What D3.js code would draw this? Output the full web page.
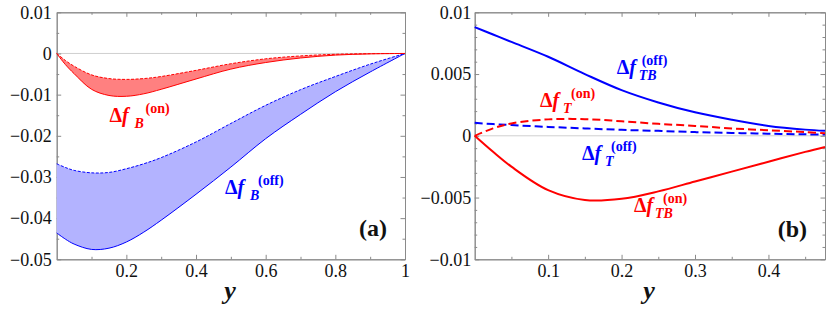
<!DOCTYPE html>
<html><head><meta charset="utf-8">
<script src="https://cdn.jsdelivr.net/npm/d3@7"></script>
<style>body{margin:0;background:#fff} svg{display:block}</style>
</head><body><svg id="c" width="830" height="312"></svg>
<script>
// ---------- data: panel (a) ----------
const yA = [0, 0.025, 0.05, 0.1, 0.15, 0.2, 0.25, 0.3, 0.4, 0.5, 0.6, 0.7, 0.8, 0.9, 1];
const bOnUpper  = [0, -0.0017, -0.0031, -0.0052, -0.0061, -0.0063, -0.0061, -0.0056, -0.0041, -0.0025, -0.0013, -0.0006, -0.0002, -0.00005, 0];
const bOnLower  = [0, -0.0027, -0.0049, -0.0087, -0.0102, -0.0104, -0.0098, -0.0087, -0.0062, -0.0038, -0.0022, -0.0011, -0.0004, -0.0001, 0];
const bOffUpper = [-0.0268, -0.0277, -0.0284, -0.0290, -0.0289, -0.0280, -0.0268, -0.0253, -0.0215, -0.0170, -0.0126, -0.0088, -0.0056, -0.0026, 0];
const bOffLower = [-0.0436, -0.0451, -0.0463, -0.0476, -0.0473, -0.0458, -0.0434, -0.0405, -0.0342, -0.0276, -0.0207, -0.0148, -0.0093, -0.0045, 0];

// ---------- data: panel (b) ----------
const yB = [0, 0.025, 0.05, 0.1, 0.15, 0.2, 0.25, 0.3, 0.35, 0.4, 0.45, 0.477];
const tbOff = [0.0088, 0.0082, 0.0076, 0.0064, 0.0050, 0.0037, 0.0027, 0.0019, 0.0013, 0.0008, 0.0005, 0.0004];
const tOn   = [0, 0.0006, 0.0010, 0.00133, 0.00135, 0.00118, 0.00097, 0.0008, 0.0006, 0.00045, 0.0003, 0.0002];
const tOff  = [0.00105, 0.00095, 0.00087, 0.00072, 0.0006, 0.00048, 0.0004, 0.0003, 0.00023, 0.00017, 0.00012, 0.0001];
const tbOn  = [0, -0.0013, -0.0025, -0.0044, -0.0052, -0.0051, -0.0045, -0.0037, -0.0029, -0.0021, -0.0013, -0.0009];

// ---------- ticks ----------
const aXMajor = [0.2, 0.4, 0.6, 0.8, 1];
const aXMinor = [0.1, 0.3, 0.5, 0.7, 0.9];
const aYMajor = [0.01, 0, -0.01, -0.02, -0.03, -0.04, -0.05];
const aYMinor = [0.005, -0.005, -0.015, -0.025, -0.035, -0.045];
const bXMajor = [0.1, 0.2, 0.3, 0.4];
const bXMinor = [0.05, 0.15, 0.25, 0.35, 0.45];
const bYMajor = [0.01, 0.005, 0, -0.005, -0.01];
const bYMinor = [0.009,0.008,0.007,0.006,0.004,0.003,0.002,0.001,-0.001,-0.002,-0.003,-0.004,-0.006,-0.007,-0.008,-0.009];

const F = "'Liberation Serif', 'DejaVu Serif', serif";
const RED = "#ff0000", BLUE = "#0000ff", FRAME = "#8a8a8a";
const svg = d3.select("#c");
svg.append("rect").attr("width", 830).attr("height", 312).attr("fill", "#fff");

function fmt(d) {
  if (d === 0) return "0";
  return (d < 0 ? "\u2212" : "") + String(Math.abs(d));
}

function frame(g, x, y, xMaj, xMin, yMaj, yMin, padY) {
  const [x0, x1] = x.range(), [y1, y0] = y.range();
  g.append("line").attr("x1", x0).attr("x2", x1).attr("y1", y(0)).attr("y2", y(0))
    .attr("stroke", "#cfcfcf").attr("stroke-width", 1);
  const mk = (axis, tr, vals, size, labels, pad) => {
    const a = axis.tickValues(vals).tickSizeInner(-size).tickSizeOuter(0).tickPadding(pad || 3)
      .tickFormat(labels ? fmt : "");
    const gg = g.append("g").attr("transform", tr).call(a);
    gg.attr("font-family", null).attr("font-size", null);
    gg.selectAll("path.domain").attr("stroke", FRAME).attr("stroke-width", 1);
    gg.selectAll(".tick line").attr("stroke", FRAME).attr("stroke-width", 1);
    gg.selectAll("text").attr("font-family", F).style("font-family", F)
      .style("font-size", "18px").attr("fill", "#111");
    return gg;
  };
  mk(d3.axisBottom(x), `translate(0,${y1})`, xMaj, 4.5, true, 5);
  mk(d3.axisBottom(x), `translate(0,${y1})`, xMin, 2.5, false);
  mk(d3.axisTop(x), `translate(0,${y0})`, xMaj, 4.5, false);
  mk(d3.axisTop(x), `translate(0,${y0})`, xMin, 2.5, false);
  mk(d3.axisLeft(y), `translate(${x0},0)`, yMaj, 4.5, true, padY);
  mk(d3.axisLeft(y), `translate(${x0},0)`, yMin, 2.5, false);
  mk(d3.axisRight(y), `translate(${x1},0)`, yMaj, 4.5, false);
  mk(d3.axisRight(y), `translate(${x1},0)`, yMin, 2.5, false);
}

function txt(g, x, y, size, opts) {
  const t = g.append("text").attr("x", x).attr("y", y)
    .attr("font-family", F).style("font-family", F).style("font-size", size + "px")
    .style("font-weight", "bold").attr("fill", opts.color || "#111");
  if (opts.italic) t.style("font-style", "italic");
  if (opts.anchor) t.attr("text-anchor", opts.anchor);
  return t;
}

function annot(g, a) {
  const t = txt(g, a.x, a.y, 20, {color: a.color});
  t.append("tspan").text("\u0394");
  t.append("tspan").style("font-style", "italic").text("f");
  txt(g, a.x + a.subDx, a.y + 6, 14, {color: a.color, italic: true}).text(a.sub);
  txt(g, a.x + a.supDx, a.y - 9, 14, {color: a.color}).text(a.sup);
}

const curve = d3.curveCatmullRom.alpha(0.5);

// ---------- panel (a) ----------
{
  const x = d3.scaleLinear().domain([0, 1]).range([56.7, 405]);
  const y = d3.scaleLinear().domain([-0.05, 0.01]).range([259.3, 12.3]);
  const g = svg.append("g");
  frame(g, x, y, aXMajor, aXMinor, aYMajor, aYMinor, 5);
  const area = (up, lo) => d3.area().x((d, i) => x(yA[i])).y0((d, i) => y(lo[i])).y1((d, i) => y(up[i])).curve(curve)(yA);
  const line = (arr) => d3.line().x((d, i) => x(yA[i])).y((d, i) => y(arr[i])).curve(curve)(yA);
  g.append("path").attr("d", area(bOffUpper, bOffLower)).attr("fill", "#b3b3ff");
  g.append("path").attr("d", area(bOnUpper, bOnLower)).attr("fill", "#ff8080");
  g.append("path").attr("d", line(bOffLower)).attr("fill", "none").attr("stroke", BLUE).attr("stroke-width", 1);
  g.append("path").attr("d", line(bOffUpper)).attr("fill", "none").attr("stroke", BLUE).attr("stroke-width", 1).attr("stroke-dasharray", "3,1.5");
  g.append("path").attr("d", line(bOnLower)).attr("fill", "none").attr("stroke", RED).attr("stroke-width", 1);
  g.append("path").attr("d", line(bOnUpper)).attr("fill", "none").attr("stroke", RED).attr("stroke-width", 1).attr("stroke-dasharray", "3,1.5");
  annot(g, {x: 109.5, y: 121.5, color: RED, sub: "B", sup: "(on)", subDx: 25, supDx: 36});
  annot(g, {x: 225, y: 193.5, color: BLUE, sub: "B", sup: "(off)", subDx: 25, supDx: 33});
  txt(g, 387, 236, 24, {anchor: "end"}).text("(a)");
  txt(g, 230, 299, 26, {anchor: "middle", italic: true}).text("y");
}

// ---------- panel (b) ----------
{
  const x = d3.scaleLinear().domain([0, 0.477]).range([474.7, 825]);
  const y = d3.scaleLinear().domain([-0.01, 0.01]).range([259.3, 12.3]);
  const g = svg.append("g");
  frame(g, x, y, bXMajor, bXMinor, bYMajor, bYMinor, 3.5);
  const line = (arr) => d3.line().x((d, i) => x(yB[i])).y((d, i) => y(arr[i])).curve(curve)(yB);
  g.append("path").attr("d", line(tOff)).attr("fill", "none").attr("stroke", BLUE).attr("stroke-width", 2).attr("stroke-dasharray", "8,4");
  g.append("path").attr("d", line(tOn)).attr("fill", "none").attr("stroke", RED).attr("stroke-width", 2).attr("stroke-dasharray", "8,4");
  g.append("path").attr("d", line(tbOff)).attr("fill", "none").attr("stroke", BLUE).attr("stroke-width", 2);
  g.append("path").attr("d", line(tbOn)).attr("fill", "none").attr("stroke", RED).attr("stroke-width", 2);
  annot(g, {x: 616.7, y: 74, color: BLUE, sub: "TB", sup: "(off)", subDx: 22, supDx: 25});
  annot(g, {x: 540, y: 106.5, color: RED, sub: "T", sup: "(on)", subDx: 23, supDx: 31});
  annot(g, {x: 582, y: 159.5, color: BLUE, sub: "T", sup: "(off)", subDx: 23, supDx: 29});
  annot(g, {x: 634, y: 211.5, color: RED, sub: "TB", sup: "(on)", subDx: 21, supDx: 29});
  txt(g, 807, 237, 24, {anchor: "end"}).text("(b)");
  txt(g, 649, 299, 26, {anchor: "middle", italic: true}).text("y");
}
</script></body></html>
